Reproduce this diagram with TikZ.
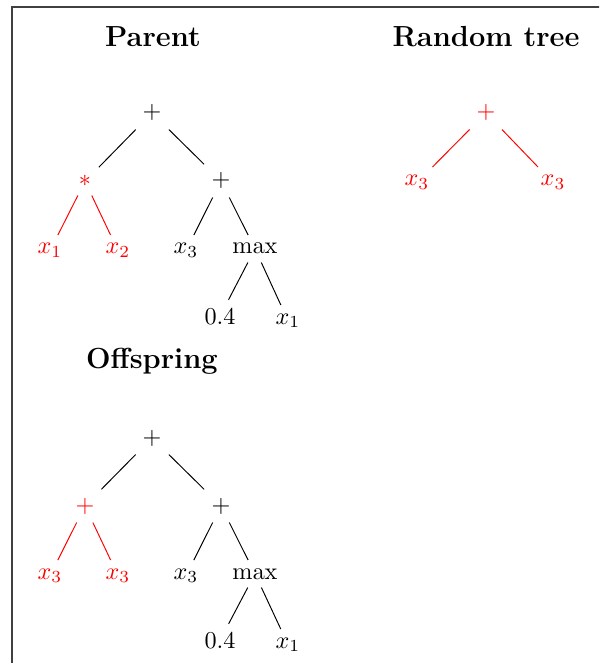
\documentclass[tikz,border=0pt]{standalone}
\begin{document}
\begin{tikzpicture}[x=0.4132pt,y=-0.4132pt,
  tn/.style={anchor=base,inner sep=0.333em},
  rn/.style={tn,text=red},
  title/.style={anchor=base,font=\large\bfseries},
  edge/.style={draw=black,line width=0.4pt},
  redge/.style={draw=red,line width=0.4pt}]
\useasboundingbox (0,0) rectangle (599,663);
\clip (0,0) rectangle (599,663);
\draw[black!75,line width=0.5pt] (12,7) rectangle (640,700);
% titles
\node[title] (tP) at (153,47) {Parent};
\node[title] (tR) at (486,47) {Random tree};
\node[title] (tO) at (152,368) {Offspring};
% Parent tree
\node[tn] (p0) at (152,119) {$+$};
\node[rn] (p1) at (85,187) {$*$};
\node[tn] (p2) at (221,187) {$+$};
\node[rn] (p11) at (50,254) {$x_1$};
\node[rn] (p12) at (118,254) {$x_2$};
\node[tn] (p21) at (186,254) {$x_3$};
\node[tn] (p22) at (255,254) {$\max$};
\node[tn] (p221) at (220,324) {$0.4$};
\node[tn] (p222) at (288,324) {$x_1$};
\draw[edge] (p0) -- (p1);
\draw[edge] (p0) -- (p2);
\draw[redge] (p1) -- (p11);
\draw[redge] (p1) -- (p12);
\draw[edge] (p2) -- (p21);
\draw[edge] (p2) -- (p22);
\draw[edge] (p22) -- (p221);
\draw[edge] (p22) -- (p222);
% Random tree
\node[rn] (r0) at (486,119) {$+$};
\node[rn] (r1) at (417,186) {$x_3$};
\node[rn] (r2) at (553,186) {$x_3$};
\draw[redge] (r0) -- (r1);
\draw[redge] (r0) -- (r2);
% Offspring tree
\node[tn] (o0) at (152,444) {$+$};
\node[rn] (o1) at (85,512) {$+$};
\node[tn] (o2) at (221,512) {$+$};
\node[rn] (o11) at (50,579) {$x_3$};
\node[rn] (o12) at (118,579) {$x_3$};
\node[tn] (o21) at (186,579) {$x_3$};
\node[tn] (o22) at (255,579) {$\max$};
\node[tn] (o221) at (220,648) {$0.4$};
\node[tn] (o222) at (288,648) {$x_1$};
\draw[edge] (o0) -- (o1);
\draw[edge] (o0) -- (o2);
\draw[redge] (o1) -- (o11);
\draw[redge] (o1) -- (o12);
\draw[edge] (o2) -- (o21);
\draw[edge] (o2) -- (o22);
\draw[edge] (o22) -- (o221);
\draw[edge] (o22) -- (o222);
\end{tikzpicture}
\end{document}
